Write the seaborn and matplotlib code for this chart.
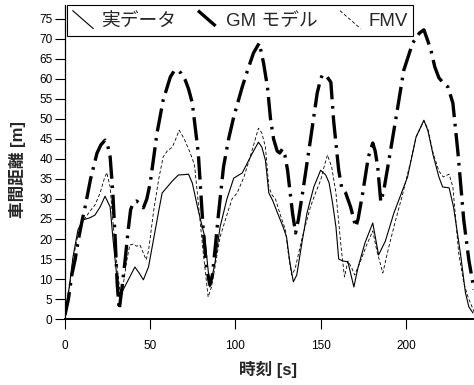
import numpy as np
import pandas as pd
import matplotlib
matplotlib.use("Agg")
import matplotlib.pyplot as plt
import seaborn as sns
from matplotlib.lines import Line2D
from matplotlib.legend_handler import HandlerLine2D

# 実データ (real measured gap)
t_real = [0, 2.5, 4.7, 7.6, 10.6, 14.7, 17.6, 20.6, 23.5, 26.5, 28.2, 30.6, 31.8, 34, 38, 41, 43.5, 46,
          49, 52, 55, 57, 60, 63, 66.5, 70, 72.5, 74.7, 78, 82, 85, 88, 91, 95, 99, 102, 104, 107, 110,
          113.5, 115.5, 117.6, 119.6, 122, 124.7, 128, 130, 132, 134, 136, 139, 142, 146, 150, 153, 155,
          157, 159, 160.6, 163, 166, 169.5, 172, 176, 180.6, 184, 188, 193, 197, 201, 206, 210.6, 213,
          216, 219.4, 221.6, 225.4, 228, 232, 235, 237, 239.4]
v_real = [1.5, 8, 15.5, 22.3, 24.8, 25.3, 26, 28, 30.7, 28, 19.8, 9.8, 5.5, 7.2, 10.5, 13, 11.5, 9.8,
          13, 20, 27, 31.5, 33, 34.5, 36, 36.1, 36.2, 34, 27.5, 20.5, 8, 14, 23, 30, 35.2, 36, 36.5, 39, 41.5,
          44.2, 43, 39.7, 31.5, 29.5, 26.5, 23, 20.5, 14, 9.3, 11, 19, 26.5, 33, 37.2, 36, 34,
          29, 23, 15, 14.5, 14.3, 8, 13, 19, 24, 16, 19.5, 26.5, 31, 35.5, 45.5, 49.7, 47,
          41, 35.5, 33, 32.8, 28, 16.5, 6.5, 3, 1.5]

# GM モデル
t_gm = [0, 2, 4, 6, 7.8, 10, 11.8, 15, 18.8, 21, 23.5, 25, 26.5, 28, 29.4, 30.6, 31.8, 33.5, 35.3, 37,
        38.5, 40, 42, 44, 46, 48, 50, 54, 57.6, 61.8, 64, 65.9, 68, 70.6, 72.5, 74.7, 78.2, 81, 83, 85,
        86.5, 88, 90, 93, 96, 99, 104, 107, 110.6, 114, 116.5, 118.8, 120.6, 122.4, 124.5, 126, 127.6,
        129, 130.6, 133.5, 135.3, 137, 139.4, 144, 148, 150, 151, 153, 156, 157.6, 160.6, 162.5, 164.7,
        167.6, 170.6, 172, 174.7, 178, 180.6, 182, 183.5, 185.3, 187, 189.4, 194, 198.8, 204, 208, 210.6,
        212.5, 214.7, 217, 219.4, 222, 224.7, 227.6, 230.6, 234, 237, 240]
v_gm = [1, 5, 11, 15, 19.7, 24.5, 28, 35, 41.5, 43.5, 44.7, 43.5, 40.5, 32, 20.5, 9, 2.3, 8, 14.8, 22,
        27.3, 29, 29.5, 28.8, 27.8, 30, 34, 46.5, 54.7, 60.5, 62, 62.3, 61.5, 59.7, 57.5, 54, 41.5, 23, 13, 8.5,
        11, 17.2, 26, 38, 45, 50.5, 58, 62, 66.5, 69, 64, 58, 50, 45, 42, 41.5, 42.5,
        41, 37.2, 26.5, 21.5, 25, 31.5, 44.7, 56.5, 60, 61, 61, 59.2, 49.7, 37.2, 32.5, 31.5,
        28, 23, 25, 31.5, 40.5, 44, 42, 38, 29.3, 32, 38, 49.7, 62.2, 69, 71.5, 72.3,
        70, 67.3, 63, 60.3, 59, 58, 54, 41.5, 24.7, 14.7, 7.3]

# FMV
t_fmv = [0, 2.5, 4.7, 7.6, 10.6, 14.7, 17.6, 20.6, 23, 24.5, 26.5, 28.2, 30.6, 32.5, 34, 36, 38, 40, 42,
         44, 47.6, 49, 52, 55, 57.6, 60, 63, 65, 67, 70, 73.5, 76, 78, 81, 84, 86, 88, 91, 95, 98, 101,
         105, 109, 113.5, 115.5, 117.6, 119.6, 121.5, 123.5, 126, 129.4, 131, 133, 135, 139, 144, 147,
         150, 152, 154, 156.5, 159, 162, 164, 166, 168, 170, 173, 177, 180.6, 183, 186.5, 190, 194, 198,
         203, 206, 210.6, 213, 216, 219.4, 222, 225.4, 227.6, 231, 234, 236.5, 240]
v_fmv = [1, 7.5, 15, 21, 24.5, 27, 28.5, 31.5, 35, 36.6, 33, 24, 13, 6, 8, 14, 18.5, 18.7, 18.2,
         18.5, 14.8, 17, 27, 35, 40.5, 42, 43, 45, 47.2, 45, 41.5, 38.5, 30, 17, 5.5, 8, 13, 20.5, 26, 30, 31.5,
         35.5, 41, 47.7, 46.5, 43, 33, 31, 30, 26.5, 22.2, 16.5, 11, 12.5, 20, 28, 31.5,
         34.7, 38, 41, 38, 31.5, 18, 10.5, 14.5, 13, 11, 14, 18.5, 22, 17, 11.5, 18, 24.7, 31,
         39.7, 45.5, 49.5, 47.5, 41.5, 37, 35.5, 36.2, 33, 16.5, 9, 5.5, 1.8]

x_ticks = [0, 50, 100, 150, 200]
y_ticks = list(range(0, 80, 5))
labels = ['実データ', 'GM モデル', 'FMV']


class DiagHandler(HandlerLine2D):
    # legend sample drawn as a slanted line, like the original figure
    def create_artists(self, legend, orig_handle, xdescent, ydescent, width, height, fontsize, trans):
        line = Line2D([-xdescent, width - xdescent], [height - ydescent, -ydescent])
        self.update_prop(line, orig_handle, legend)
        line.set_transform(trans)
        return [line]


sns.set_theme(style='ticks')
plt.rcParams['font.family'] = ['Liberation Sans', 'Noto Sans CJK JP', 'DejaVu Sans']

fig = plt.figure(figsize=(4.74, 3.85), dpi=100)
ax = fig.add_axes([65 / 474, 66 / 385, 409 / 474, 314 / 385])

sns.lineplot(x=t_real, y=v_real, ax=ax, color='black', linewidth=0.8, legend=False)
sns.lineplot(x=t_gm, y=v_gm, ax=ax, color='black', linewidth=2.4, legend=False,
             linestyle=(0, (7, 2, 0.8, 2)))
sns.lineplot(x=t_fmv, y=v_fmv, ax=ax, color='black', linewidth=0.6, legend=False,
             linestyle=(0, (4, 2.5)))

ax.set_xlim(0, 240)
ax.set_ylim(0, 78.5)
ax.set_xticks(x_ticks)
ax.set_yticks(y_ticks)
ax.tick_params(axis='both', direction='out', length=7, width=0.8, labelsize=8.5, colors='black')
ax.tick_params(axis='x', pad=8)
ax.tick_params(axis='y', pad=2)
sns.despine(ax=ax)
ax.spines['bottom'].set_linewidth(1.4)
ax.spines['left'].set_linewidth(0.9)
ax.spines['bottom'].set_color('black')
ax.spines['left'].set_color('black')

ax.set_xlabel('時刻 [s]', fontsize=12, fontweight='bold')
ax.set_ylabel('車間距離 [m]', fontsize=12, fontweight='bold')
ax.xaxis.set_label_coords(0.496, -0.135)
ax.yaxis.set_label_coords(-0.095, 0.475)

leg = ax.legend(ax.get_lines(), labels, handler_map={Line2D: DiagHandler()},
                loc='upper left', bbox_to_anchor=(0.005, 0, 0.846, 1), mode='expand',
                borderaxespad=0, ncol=3, fontsize=13.5, frameon=True, fancybox=False,
                framealpha=1, edgecolor='black', handlelength=1.1, handleheight=1.1,
                handletextpad=0.4, borderpad=0.3, columnspacing=0.8)
leg.get_frame().set_linewidth(0.8)

fig.savefig('out.png', dpi=100)
